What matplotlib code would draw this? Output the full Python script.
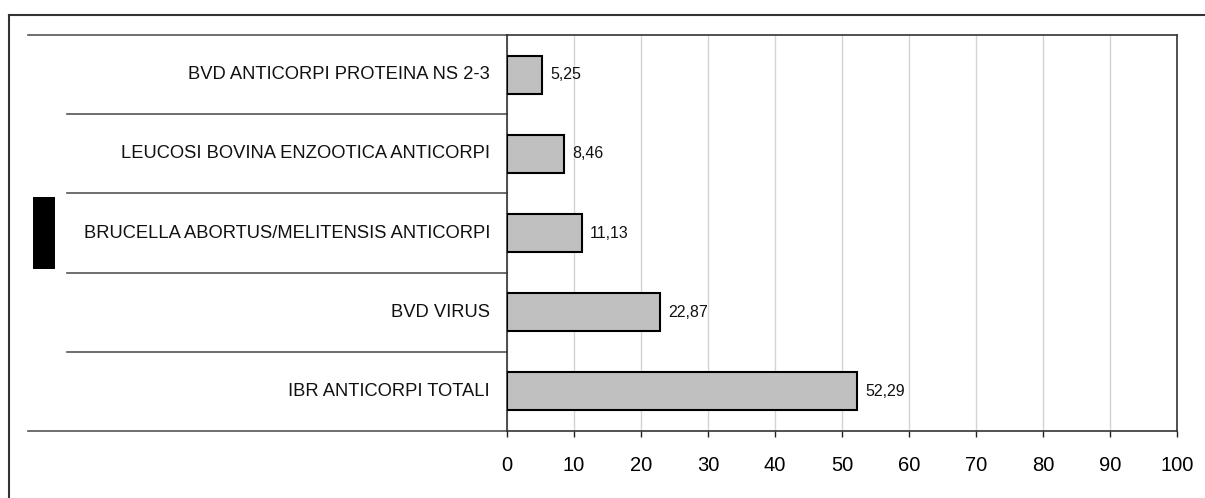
import matplotlib
matplotlib.use("Agg")
import matplotlib.pyplot as plt
from matplotlib.lines import Line2D
from matplotlib.patches import Rectangle
import matplotlib.transforms as mtransforms

plt.rcParams['font.family'] = ['Liberation Sans', 'DejaVu Sans']

categories = [
    "IBR ANTICORPI TOTALI",
    "BVD VIRUS",
    "BRUCELLA ABORTUS/MELITENSIS ANTICORPI",
    "LEUCOSI BOVINA ENZOOTICA ANTICORPI",
    "BVD ANTICORPI PROTEINA NS 2-3",
]
values = [52.29, 22.87, 11.13, 8.46, 5.25]
xticks = [0, 10, 20, 30, 40, 50, 60, 70, 80, 90, 100]

W, H = 1205, 498
fig = plt.figure(figsize=(W / 100, H / 100), dpi=100)
ax = fig.add_axes([507 / W, (H - 431) / H, (1177 - 507) / W, (431 - 35) / H])

ypos = list(range(len(categories)))
ax.barh(ypos, values, height=0.48, color='#c0c0c0', edgecolor='black', linewidth=1.5, zorder=3)

for y, v in zip(ypos, values):
    ax.annotate(f"{v:.2f}".replace('.', ','), (v, y), xytext=(6, 0), textcoords='offset points',
                ha='left', va='center', fontsize=11.5, color='#111111')

ax.set_xlim(0, 100)
ax.set_ylim(-0.5, len(categories) - 0.5)
ax.set_xticks(xticks)
ax.set_xticklabels([str(t) for t in xticks], fontsize=14.5)
ax.tick_params(axis='x', direction='out', length=4, width=1, pad=14, colors='#222222', labelcolor='black')
ax.set_yticks([])
ax.grid(axis='x', color='#d4d4d4', linewidth=1, zorder=0)
ax.set_axisbelow(True)
for s in ax.spines.values():
    s.set_color('#333333')
    s.set_linewidth(1.2)

# category labels
trans_lbl = mtransforms.blended_transform_factory(fig.transFigure, ax.transData)
for y, c in zip(ypos, categories):
    ax.text(490 / W, y, c, transform=trans_lbl, ha='right', va='center', fontsize=13.2, color='#111111')

# separator lines
for i in range(len(categories) + 1):
    yb = i - 0.5
    x0 = 28 / W if i in (0, len(categories)) else 67 / W
    ln = Line2D([x0, 507 / W], [yb, yb], transform=trans_lbl, color='#555555', linewidth=1.2, clip_on=False)
    ax.add_line(ln)

# black marker rectangle
fig.patches.append(Rectangle((33 / W, (H - 269) / H), 22 / W, 72 / H, transform=fig.transFigure,
                             facecolor='black', edgecolor='none'))

# outer border (left and top)
fig.add_artist(Line2D([9 / W, 9 / W], [0, (H - 15) / H], transform=fig.transFigure, color='#333333', linewidth=1.5))
fig.add_artist(Line2D([9 / W, 1], [(H - 15) / H, (H - 15) / H], transform=fig.transFigure, color='#333333', linewidth=1.5))

fig.savefig("out.png", dpi=100)
